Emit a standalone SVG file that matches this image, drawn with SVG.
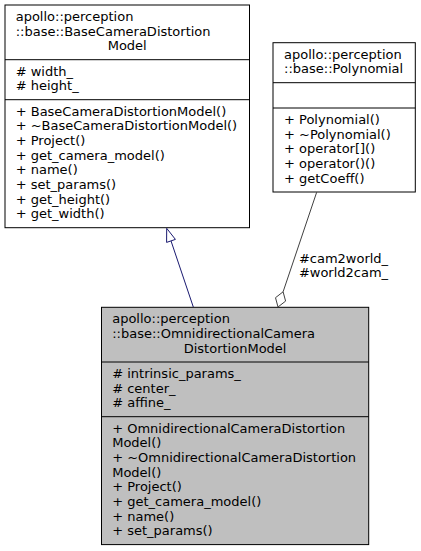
<svg xmlns="http://www.w3.org/2000/svg" width="421" height="551" viewBox="0 0 421 551">
<style>
text{font-family:"DejaVu Sans","Liberation Sans",sans-serif;font-size:13px;fill:#000}
.m{text-anchor:middle}
.box{fill:#fff;stroke:#000;stroke-width:1}
.root{fill:#bfbfbf;stroke:#000;stroke-width:1}
.div{stroke:#000;stroke-width:1;fill:none}
</style>
<rect width="421" height="551" fill="#fff"/>
<g id="node-base">
<rect class="box" x="5" y="5" width="244.5" height="222.7"/>
<text x="15.7" y="21">apollo::perception</text>
<text x="15.7" y="35.7">::base::BaseCameraDistortion</text>
<text class="m" x="127.2" y="50.3">Model</text>
<line class="div" x1="5" y1="59.7" x2="249.5" y2="59.7"/>
<text x="15.7" y="75.7"># width_</text>
<text x="15.7" y="90.3"># height_</text>
<line class="div" x1="5" y1="99.7" x2="249.5" y2="99.7"/>
<text x="15.7" y="115.7">+ BaseCameraDistortionModel()</text>
<text x="15.7" y="130.3">+ ~BaseCameraDistortionModel()</text>
<text x="15.7" y="145">+ Project()</text>
<text x="15.7" y="159.7">+ get_camera_model()</text>
<text x="15.7" y="174.3">+ name()</text>
<text x="15.7" y="189">+ set_params()</text>
<text x="15.7" y="203.7">+ get_height()</text>
<text x="15.7" y="218.3">+ get_width()</text>
</g>
<g id="node-polynomial">
<rect class="box" x="273" y="42.7" width="142.3" height="149.3"/>
<text x="284" y="58.7">apollo::perception</text>
<text x="284" y="73.3">::base::Polynomial</text>
<line class="div" x1="273" y1="82.7" x2="415.3" y2="82.7"/>
<line class="div" x1="273" y1="108" x2="415.3" y2="108"/>
<text x="284" y="124">+ Polynomial()</text>
<text x="284" y="138.7">+ ~Polynomial()</text>
<text x="284" y="153.3">+ operator[]()</text>
<text x="284" y="168">+ operator()()</text>
<text x="284" y="182.7">+ getCoeff()</text>
</g>
<g id="node-omni">
<rect class="root" x="101.5" y="307.3" width="267.2" height="237.3"/>
<text x="112.2" y="323.3">apollo::perception</text>
<text x="112.2" y="338">::base::OmnidirectionalCamera</text>
<text class="m" x="235.1" y="352.7">DistortionModel</text>
<line class="div" x1="101.5" y1="362" x2="368.7" y2="362"/>
<text x="112.2" y="378"># intrinsic_params_</text>
<text x="112.2" y="392.7"># center_</text>
<text x="112.2" y="407.3"># affine_</text>
<line class="div" x1="101.5" y1="416.7" x2="368.7" y2="416.7"/>
<text x="112.2" y="432.7">+ OmnidirectionalCameraDistortion</text>
<text x="112.2" y="447.3">Model()</text>
<text x="112.2" y="462">+ ~OmnidirectionalCameraDistortion</text>
<text x="112.2" y="476.7">Model()</text>
<text x="112.2" y="491.3">+ Project()</text>
<text x="112.2" y="506">+ get_camera_model()</text>
<text x="112.2" y="520.7">+ name()</text>
<text x="112.2" y="535.3">+ set_params()</text>
</g>
<g id="connectors">
<g id="edge-inherit">
<line x1="193.3" y1="307" x2="171" y2="240.9" stroke="#191970" stroke-width="1"/>
<polygon points="166.7,228.3 175.4,239.4 166.6,242.4" fill="#fff" stroke="#191970" stroke-width="1"/>
</g>
<g id="edge-aggregation">
<line x1="316.7" y1="192.2" x2="283.1" y2="291.8" stroke="#404040" stroke-width="1"/>
<polygon points="278,307 275.5,297.7 283.1,291.8 285.6,301.1" fill="#fff" stroke="#404040" stroke-width="1"/>
<text class="m" x="343.5" y="262.5">#cam2world_</text>
<text class="m" x="343.5" y="277.2">#world2cam_</text>
</g>
</g>
</svg>
